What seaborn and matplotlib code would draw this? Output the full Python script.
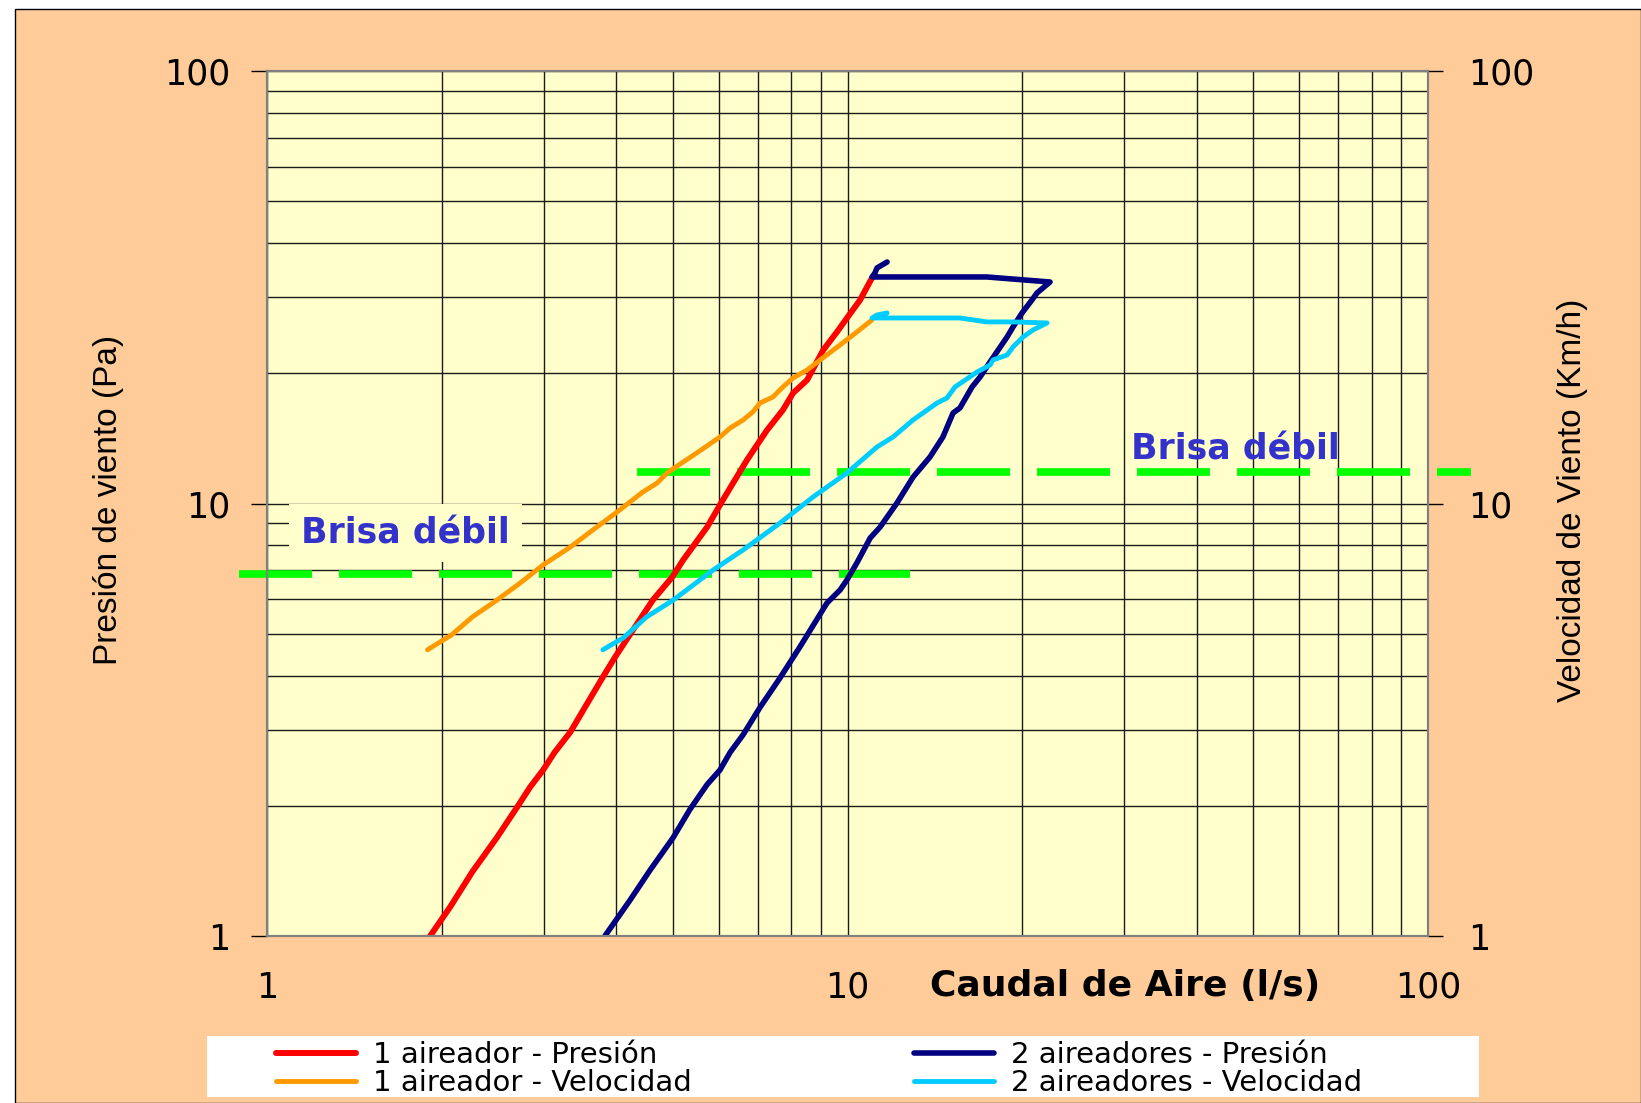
import numpy as np
import matplotlib
matplotlib.use("Agg")
import matplotlib.pyplot as plt
import matplotlib.patches as patches
from matplotlib.ticker import LogLocator, NullFormatter, NullLocator
import seaborn as sns

# values (caudal l/s vs presion Pa / velocidad km/h)
red_x = [1.91, 2.07, 2.26, 2.49, 2.70, 2.84, 2.99, 3.13, 3.33, 3.53, 3.79, 3.98, 4.27, 4.62, 4.99,
         5.21, 5.73, 6.10, 6.71, 7.27, 7.74, 8.06, 8.52, 9.08, 9.59, 9.98, 10.51, 10.76, 11.02]
red_y = [1.00, 1.17, 1.41, 1.69, 1.99, 2.21, 2.42, 2.66, 2.96, 3.38, 3.97, 4.42, 5.10, 5.98, 6.76,
         7.40, 8.82, 10.19, 12.60, 14.79, 16.45, 18.01, 19.30, 22.63, 24.92, 26.85, 29.54, 31.33, 33.22]

orange_x = [1.89, 2.08, 2.26, 2.49, 2.73, 2.99, 3.33, 3.64, 4.01, 4.44, 4.70, 4.89, 5.21, 5.50,
            6.03, 6.28, 6.61, 6.87, 7.07, 7.44, 7.74, 8.06, 8.52, 8.97, 9.71, 10.22, 11.02]
orange_y = [4.59, 4.97, 5.47, 5.98, 6.55, 7.21, 7.93, 8.68, 9.56, 10.63, 11.15, 11.77, 12.47, 13.09,
            14.25, 14.95, 15.60, 16.28, 17.08, 17.63, 18.60, 19.51, 20.36, 21.47, 23.26, 24.52, 26.57]

navy_x = [3.82, 4.22, 4.57, 5.01, 5.35, 5.73, 6.03, 6.28, 6.61, 7.07, 7.65, 8.28, 9.22, 9.71, 9.98,
          10.38, 10.94, 11.38, 12.17, 12.97, 13.87, 14.60, 15.20, 15.62, 16.39, 16.92, 17.60, 18.83,
          19.28, 19.98, 20.78, 21.20, 22.33, 17.39, 11.02, 11.15, 11.24, 11.70]
navy_y = [1.00, 1.21, 1.42, 1.69, 1.96, 2.24, 2.42, 2.66, 2.92, 3.38, 3.95, 4.66, 5.89, 6.31, 6.66,
          7.29, 8.32, 8.82, 10.03, 11.51, 12.81, 14.25, 16.19, 16.63, 18.60, 19.61, 21.24, 24.26,
          25.59, 27.57, 29.54, 30.67, 32.52, 33.40, 33.40, 34.12, 35.04, 36.17]

cyan_x = [3.79, 4.11, 4.51, 5.01, 5.87, 6.61, 7.65, 8.72, 9.98, 11.24, 11.98, 12.97, 14.27, 14.84,
          15.32, 16.72, 17.60, 17.81, 18.83, 19.28, 20.06, 20.87, 22.07, 19.28, 17.39, 15.62, 12.97,
          11.02, 11.24, 11.70]
cyan_y = [4.59, 4.89, 5.47, 5.98, 7.02, 7.81, 9.01, 10.35, 11.77, 13.51, 14.25, 15.60, 17.08, 17.54,
          18.60, 20.14, 20.90, 21.47, 22.05, 23.01, 24.26, 25.19, 26.15, 26.29, 26.29, 26.85, 26.85,
          26.85, 27.28, 27.57]

labels = ['1 aireador - Presión', '1 aireador - Velocidad',
          '2 aireadores - Presión', '2 aireadores - Velocidad']

# "Brisa débil" reference lines
brisa_y = [6.87, 11.82]
brisa_lo_x = [0.895, 12.8]
brisa_hi_x = [4.34, 118.6]
brisa_text_xy = [(1.729, 8.10), (46.5, 12.67)]

ticks = [1, 10, 100]
tick_labels = ['1', '10', '100']

sns.set_style("white")
plt.rcParams['font.family'] = ['DejaVu Sans']
plt.rcParams.update({'text.color': 'black', 'axes.labelcolor': 'black',
                     'xtick.color': 'black', 'ytick.color': 'black'})

fig = plt.figure(figsize=(16.41, 11.03), dpi=100, facecolor='white')
fig.add_artist(patches.Rectangle((15 / 1641, 0), 1 - 15 / 1641, 1 - 9 / 1103,
                                 transform=fig.transFigure, facecolor='#FFCC99',
                                 edgecolor='black', lw=1, zorder=-2))
fig.add_artist(patches.Rectangle((207 / 1641, 6 / 1103), 1272 / 1641, 61 / 1103,
                                 transform=fig.transFigure, facecolor='white',
                                 edgecolor='none', zorder=-1))

ax = fig.add_axes([267 / 1641, 1 - 936 / 1103, 1161 / 1641, 865 / 1103])
ax.set_facecolor('#FFFFCC')
ax.set_xscale('log')
ax.set_yscale('log')

# curves
handles = []
series = [(red_x, red_y, '#FF0000', 4.3),
          (orange_x, orange_y, '#FF9900', 3.5),
          (navy_x, navy_y, '#000080', 4.0),
          (cyan_x, cyan_y, '#00CCFF', 3.5)]
for xs, ys, col, lw in series:
    sns.lineplot(x=xs, y=ys, sort=False, estimator=None, color=col, lw=lw, ax=ax,
                 solid_capstyle='round', solid_joinstyle='round', zorder=3)
    handles.append(ax.lines[-1])

# green dashed lines
for xs, yv in [(brisa_lo_x, brisa_y[0]), (brisa_hi_x, brisa_y[1])]:
    ax.plot(xs, [yv, yv], color='#00FF00', lw=5.5, dashes=(9.56, 3.53),
            dash_capstyle='butt', clip_on=False, zorder=2.2)

ax.text(*brisa_text_xy[0], 'Brisa débil', ha='center', va='baseline', fontsize=25,
        fontweight='bold', color='#3333CC', zorder=2.1,
        bbox=dict(boxstyle='square,pad=0.35', fc='#FFFFCC', ec='none'))
ax.text(*brisa_text_xy[1], 'Brisa débil', ha='center', va='baseline', fontsize=25,
        fontweight='bold', color='#3333CC', zorder=2.1)

ax.set_xlim(1, 100)
ax.set_ylim(1, 100)
ax.set_xticks(ticks, labels=tick_labels)
ax.set_yticks(ticks, labels=tick_labels)
for axis in (ax.xaxis, ax.yaxis):
    axis.set_minor_locator(LogLocator(base=10, subs=np.arange(2, 10)))
    axis.set_minor_formatter(NullFormatter())
ax.grid(True, which='both', color='#1a1a1a', lw=1.0)
ax.tick_params(which='minor', length=0)
ax.tick_params(axis='y', which='major', direction='out', length=11.5, width=1,
               pad=15, labelsize=25, colors='black')
ax.tick_params(axis='x', which='major', direction='out', length=9, width=1,
               pad=16, labelsize=25, colors='black')

ax2 = ax.twinx()
ax2.set_yscale('log')
ax2.set_ylim(1, 100)
ax2.set_yticks(ticks, labels=tick_labels)
ax2.yaxis.set_minor_locator(NullLocator())
ax2.tick_params(axis='y', which='major', direction='out', length=11, width=1,
                pad=18, labelsize=25, colors='black')

for a in (ax, ax2):
    for s in a.spines.values():
        s.set_color('#808080')
        s.set_linewidth(1.5)

ax.set_ylabel('Presión de viento (Pa)', fontsize=24, family='Liberation Sans', color='black')
ax.yaxis.set_label_coords(-0.123, 0.504)
ax2.set_ylabel('Velocidad de Viento (Km/h)', fontsize=24, family='Liberation Sans', color='black')
ax2.yaxis.set_label_coords(1.111, 0.504)
ax.set_xlabel('Caudal de Aire (l/s)', fontsize=26, fontweight='bold', color='black')
ax.xaxis.set_label_coords(0.739, -0.038)

# legend in two columns, placed to match the reference box
leg_kw = dict(loc='upper left', frameon=False, fontsize=21, handlelength=2.75,
              handletextpad=0.58, labelspacing=0.0, borderpad=0, borderaxespad=0,
              labelcolor='black')
fig.legend(handles[:2], labels[:2], bbox_to_anchor=(276 / 1641, 1 - 1041 / 1103), **leg_kw)
fig.legend(handles[2:], labels[2:], bbox_to_anchor=(914 / 1641, 1 - 1041 / 1103), **leg_kw)

fig.savefig('out.png', dpi=100, facecolor=fig.get_facecolor())
